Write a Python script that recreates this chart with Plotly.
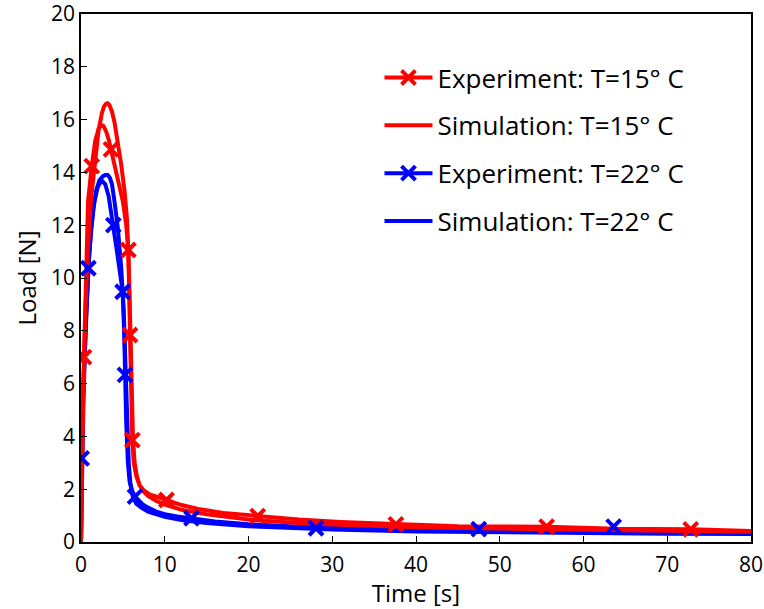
import plotly.graph_objects as go

# ---------------- data ----------------
# Experiment, T=15 C (dense curve)
exp15_t = [0, 0.05, 0.2, 0.36, 0.6, 0.84, 1.28, 1.7, 2.1, 2.45, 2.7, 3.0, 3.3, 3.58, 4.0, 4.5,
           5.0, 5.4, 5.65, 5.85, 6.0, 6.13, 6.3, 6.6, 7.0, 7.5, 8.2, 9.0, 10.2, 12, 14, 17,
           21.1, 26, 31, 37.6, 45, 55.6, 64, 72.8, 80]
exp15_L = [0, 1.5, 4.5, 7.0, 10.2, 12.9, 14.24, 15.2, 15.65, 15.8, 15.75, 15.55, 15.25, 14.87, 14.2, 13.5,
           12.9, 12.0, 11.06, 7.84, 5.5, 3.86, 3.0, 2.5, 2.15, 1.95, 1.8, 1.7, 1.59, 1.4, 1.25, 1.1,
           0.98, 0.85, 0.76, 0.67, 0.6, 0.58, 0.5, 0.48, 0.42]
# Experiment, T=15 C (plotted markers)
exp15_mt = [0.36, 1.28, 3.58, 5.65, 5.85, 6.13, 10.2, 21.1, 37.6, 55.6, 72.8]
exp15_mL = [7.0, 14.24, 14.87, 11.06, 7.84, 3.86, 1.59, 0.98, 0.67, 0.58, 0.48]

# Simulation, T=15 C
sim15_t = [0, 0.1, 0.25, 0.5, 0.8, 1.2, 1.7, 2.1, 2.5, 2.75, 3.0, 3.18, 3.4, 3.7, 4.0, 4.4, 4.8, 5.2,
           5.5, 5.75, 5.95, 6.2, 6.4, 6.7, 7.0, 7.5, 8, 9, 10, 12, 15, 20, 25, 30, 40, 50, 60, 70, 80]
sim15_L = [0, 2.5, 5.5, 8.5, 11.0, 13.0, 14.6, 15.6, 16.25, 16.5, 16.6, 16.62, 16.55, 16.3, 15.9, 15.2, 14.3, 13.3,
           12.2, 10.0, 6.8, 4.0, 3.0, 2.45, 2.15, 1.9, 1.75, 1.55, 1.42, 1.22, 1.05, 0.85, 0.74, 0.66,
           0.56, 0.5, 0.46, 0.43, 0.4]

# Experiment, T=22 C (dense curve)
exp22_t = [0, 0.08, 0.3, 0.6, 0.88, 1.2, 1.6, 2.0, 2.3, 2.6, 2.9, 3.3, 3.86, 4.3, 4.7, 4.97,
           5.15, 5.25, 5.4, 5.6, 5.8, 6.1, 6.45, 7.0, 8, 9, 10, 11.5, 13.2, 16, 20, 28, 35,
           47.5, 55, 63.6, 72, 80]
exp22_L = [0, 3.17, 6.0, 8.6, 10.37, 11.8, 12.9, 13.45, 13.62, 13.65, 13.55, 13.1, 12.0, 11.0, 10.1, 9.48,
           8.0, 6.33, 4.5, 3.0, 2.3, 1.95, 1.72, 1.5, 1.3, 1.15, 1.05, 0.97, 0.9, 0.78, 0.67, 0.55, 0.5,
           0.45, 0.42, 0.42, 0.35, 0.32]
exp22_mt = [0.08, 0.88, 3.86, 4.97, 5.25, 6.45, 13.2, 28.06, 47.5, 63.6]
exp22_mL = [3.17, 10.37, 12.0, 9.48, 6.33, 1.72, 0.9, 0.52, 0.49, 0.58]

# Simulation, T=22 C
sim22_t = [0, 0.1, 0.3, 0.6, 1.0, 1.4, 1.8, 2.2, 2.6, 2.9, 3.18, 3.45, 3.7, 4.0, 4.4, 4.8, 5.1, 5.3,
           5.5, 5.7, 5.9, 6.2, 6.6, 7.2, 8, 9, 10, 12, 15, 20, 25, 30, 40, 50, 60, 70, 80]
sim22_L = [0, 2.5, 5.5, 8.5, 11.0, 12.5, 13.3, 13.7, 13.85, 13.9, 13.9, 13.8, 13.55, 12.9, 11.9, 10.4, 8.8, 6.8,
           4.6, 3.0, 2.2, 1.7, 1.45, 1.3, 1.15, 1.03, 0.95, 0.83, 0.72, 0.6, 0.52, 0.47, 0.4, 0.36,
           0.33, 0.31, 0.3]

x_ticks = [0, 10, 20, 30, 40, 50, 60, 70, 80]
y_ticks = [0, 2, 4, 6, 8, 10, 12, 14, 16, 18, 20]

names = ["Experiment: T=15° C", "Simulation: T=15° C",
         "Experiment: T=22° C", "Simulation: T=22° C"]

RED = "rgb(255,0,0)"
BLUE = "rgb(0,0,255)"
LW = 4
FONT = "Open Sans"

fig = go.Figure()

# lines (blue first, red on top)
fig.add_trace(go.Scatter(x=sim22_t, y=sim22_L, mode="lines", line=dict(color=BLUE, width=LW),
                         showlegend=False))
fig.add_trace(go.Scatter(x=exp22_t, y=exp22_L, mode="lines", line=dict(color=BLUE, width=LW),
                         showlegend=False))
fig.add_trace(go.Scatter(x=sim15_t, y=sim15_L, mode="lines", line=dict(color=RED, width=LW),
                         showlegend=False))
fig.add_trace(go.Scatter(x=exp15_t, y=exp15_L, mode="lines", line=dict(color=RED, width=LW),
                         showlegend=False))

mk = lambda c: dict(symbol="x-thin", size=14, color=c, line=dict(color=c, width=4))
fig.add_trace(go.Scatter(x=exp15_mt, y=exp15_mL, mode="markers", marker=mk(RED), showlegend=False))
fig.add_trace(go.Scatter(x=exp22_mt, y=exp22_mL, mode="markers", marker=mk(BLUE), showlegend=False))

# legend entries
for i, (nm, col, mode) in enumerate([(names[0], RED, "lines+markers"),
                                     (names[1], RED, "lines"),
                                     (names[2], BLUE, "lines+markers"),
                                     (names[3], BLUE, "lines")]):
    fig.add_trace(go.Scatter(x=[None], y=[None], mode=mode, name=nm,
                             line=dict(color=col, width=LW), marker=mk(col),
                             legendgroup=f"g{i}", legendrank=i + 1))

axis_common = dict(showline=True, linecolor="black", linewidth=1.5, mirror=True,
                   ticks="inside", ticklen=6, tickcolor="black", tickwidth=1,
                   showgrid=False, zeroline=False, automargin=False,
                   ticklabeloverflow="allow",
                   tickfont=dict(family=FONT, size=21, color="black"))

fig.update_layout(
    width=764, height=609,
    margin=dict(l=81, r=13, t=14, b=67),
    paper_bgcolor="white", plot_bgcolor="white",
    xaxis=dict(range=[0, 80], tickvals=x_ticks, ticktext=[str(v) for v in x_ticks],
               ticklabelstandoff=3,
               title=dict(text="Time [s]", font=dict(family=FONT, size=24, color="black"), standoff=9),
               **axis_common),
    yaxis=dict(range=[0, 20], tickvals=y_ticks, ticktext=[str(v) for v in y_ticks],
               title=dict(text="Load [N]", font=dict(family=FONT, size=24, color="black"), standoff=8),
               **axis_common),
    legend=dict(x=0.4455, y=0.924, xanchor="left", yanchor="top",
                font=dict(family=FONT, size=26, color="black"),
                bgcolor="rgba(0,0,0,0)", tracegroupgap=11, itemwidth=48),
)

fig.write_html("out.html", config={"displayModeBar": False},
               post_script="document.body.style.margin='0';document.body.style.overflow='hidden';")
